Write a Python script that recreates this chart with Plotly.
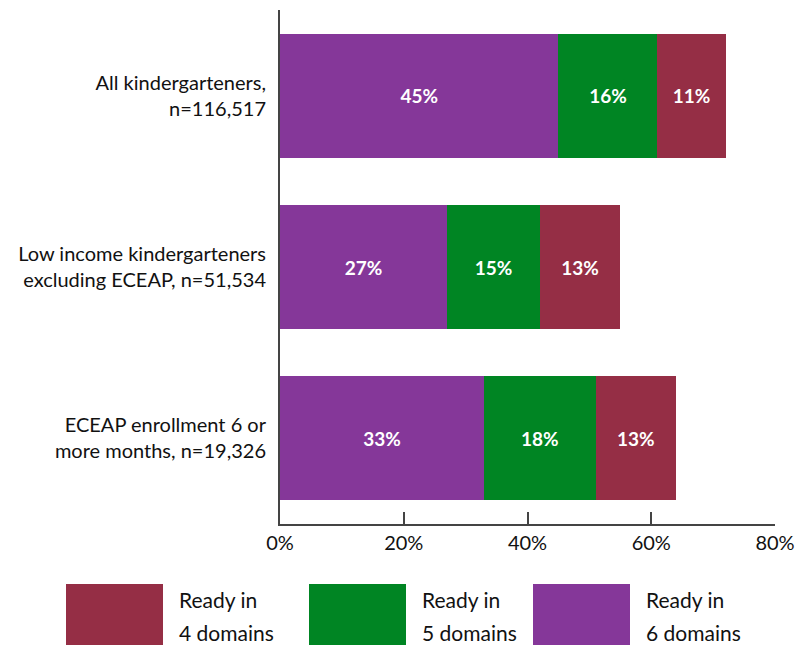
import plotly.graph_objects as go

categories = ["All kindergarteners,<br>n=116,517",
              "Low income kindergarteners<br>excluding ECEAP, n=51,534",
              "ECEAP enrollment 6 or<br>more months, n=19,326"]
ready6 = [45, 27, 33]
ready5 = [16, 15, 18]
ready4 = [11, 13, 13]
series_names = ["Ready in<br>6 domains", "Ready in<br>5 domains", "Ready in<br>4 domains"]
colors = ["#853799", "#008523", "#952E45"]
x_ticks = [0, 20, 40, 60, 80]
x_tick_labels = ["0%", "20%", "40%", "60%", "80%"]

FONT = "Lato"
OFF = 8  # page body margin
W, H = 808 - OFF, 645 - OFF
ML, MR, MT, MB = 280 - OFF, 33, 10 - OFF, 121
PW, PH = W - ML - MR, H - MT - MB

fig = go.Figure()
for name, vals, col in zip(series_names, [ready6, ready5, ready4], colors):
    fig.add_trace(go.Bar(
        y=categories, x=vals, orientation="h", name=name,
        marker=dict(color=col, line=dict(width=0)),
        text=[f"{v}%" for v in vals], textposition="inside",
        insidetextanchor="middle", constraintext="none",
        textfont=dict(family=FONT, size=19, color="white", weight="bold"),
        showlegend=False,
    ))

def px_x(p):
    return (p - OFF - ML) / PW

def px_y(p):
    return (H - MB - (p - OFF)) / PH

# custom legend with large swatches (page pixel positions)
legend_items = [(colors[2], "4 domains", 66, 163, 177),
                (colors[1], "5 domains", 309, 406, 420),
                (colors[0], "6 domains", 533, 630, 644)]
shapes = []
annotations = []
for col, line2, x0, x1, tx in legend_items:
    shapes.append(dict(type="rect", xref="paper", yref="paper",
                       x0=px_x(x0), x1=px_x(x1), y0=px_y(650), y1=px_y(584),
                       fillcolor=col, line=dict(width=0), layer="above"))
    annotations.append(dict(xref="paper", yref="paper", x=px_x(tx), y=px_y(599),
                            text="Ready in", showarrow=False, xanchor="left", yanchor="middle",
                            font=dict(family=FONT, size=21, color="#111111")))
    annotations.append(dict(xref="paper", yref="paper", x=px_x(tx), y=px_y(632),
                            text=line2, showarrow=False, xanchor="left", yanchor="middle",
                            font=dict(family=FONT, size=21, color="#111111")))

fig.update_layout(
    barmode="stack", bargap=0.275,
    width=W, height=H,
    margin=dict(l=ML, r=MR, t=MT, b=MB, autoexpand=False),
    paper_bgcolor="white", plot_bgcolor="white",
    font=dict(family=FONT, size=20, color="#111111"),
    shapes=shapes, annotations=annotations,
    xaxis=dict(range=[0, 80], tickvals=x_ticks, ticktext=x_tick_labels,
               showgrid=False, zeroline=False, showline=True, linecolor="#444444",
               linewidth=2, ticks="inside", ticklen=12, tickwidth=1.5, tickcolor="#444444",
               tickfont=dict(family=FONT, size=20, color="#111111")),
    yaxis=dict(autorange="reversed", showgrid=False, zeroline=False, showline=True,
               linecolor="#444444", linewidth=2, ticks="", ticklabelstandoff=8,
               tickfont=dict(family=FONT, size=20, color="#111111")),
)

fig.write_html("out.html")
